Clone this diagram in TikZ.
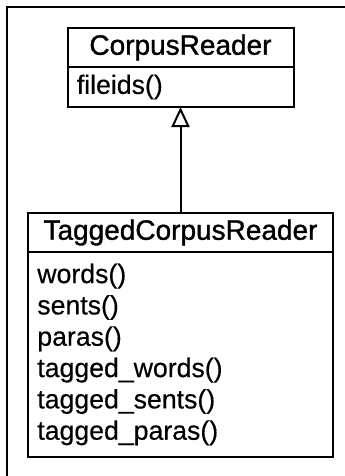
\documentclass[tikz,border=0pt]{standalone}
\usepackage{fontspec}
\setmainfont{Liberation Sans}[FakeBold=0.4]
\newfontfamily\headfont{Liberation Sans}[FakeBold=1.2]
\usetikzlibrary{calc}
\usetikzlibrary{arrows.meta,positioning}

\tikzset{
  classhead/.style={rectangle,draw=black,line width=1.5pt,outer sep=0pt,inner sep=0pt,font=\headfont\fontsize{21}{22.5}\selectfont},
  classbody/.style={rectangle,draw=black,line width=1.5pt,outer sep=0pt,inner xsep=7pt,inner ysep=0pt,align=left,font=\fontsize{20}{23.5}\selectfont},
  inherits/.style={-{Triangle[open,length=15pt,width=13.5pt]},line width=1.5pt}
}

\begin{document}
\begin{tikzpicture}[x=0.75pt,y=-0.75pt]
\useasboundingbox (0,0) rectangle (345,476);

\coordinate (LEFTCORNER) at (7,7);
\coordinate (input) at (180.5,0);

%draw frame (only top and left edge show)
\draw[line width=1.5pt] (LEFTCORNER) ++(338,0) -- (LEFTCORNER) -- ++(0,469);

%draw base class
\node[classhead,minimum width=169.5pt,minimum height=29.25pt] at ($(input)+(0,47.5)$) (corpushead) {CorpusReader};
\node[classbody,minimum width=169.5pt,minimum height=30pt,text width=155.5pt,below=0pt of corpushead] (corpusbody) {fileids()};

%%%%%%%

%draw sub class
\node[classhead,minimum width=228.75pt,minimum height=29.25pt] at ($(input)+(0,232.5)$) (taggedhead) {TaggedCorpusReader};
\node[classbody,minimum width=228.75pt,minimum height=153.75pt,text width=214.75pt,below=0pt of taggedhead] (taggedbody) {words()\\sents()\\paras()\\tagged\_words()\\tagged\_sents()\\tagged\_paras()};

\draw[inherits] (taggedhead.north) -- (corpusbody.south);

\end{tikzpicture}
\end{document}
